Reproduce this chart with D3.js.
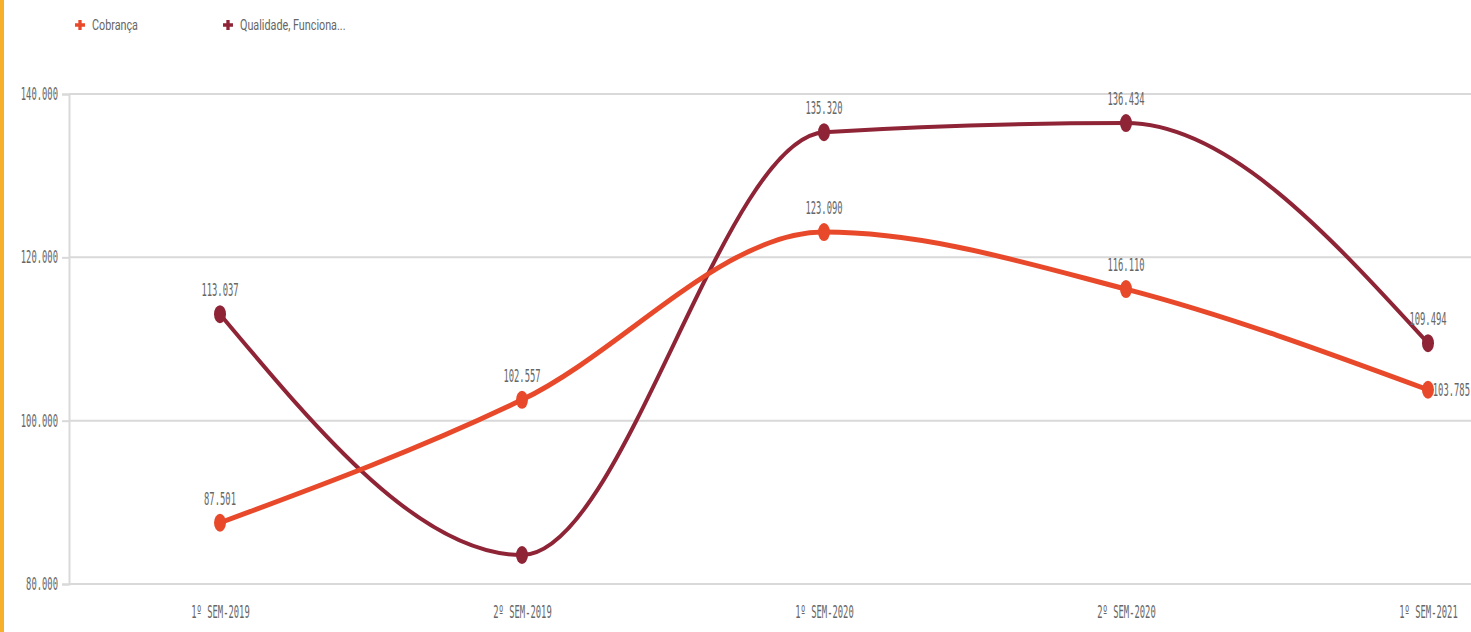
<!DOCTYPE html>
<html>
<head>
<meta charset="utf-8">
<script src="https://cdn.jsdelivr.net/npm/d3@7/dist/d3.min.js"></script>
<style>
  html, body { margin: 0; padding: 0; background: #fff; }
  svg { display: block; }
</style>
</head>
<body>
<svg id="chart" width="1471" height="632"></svg>
<script>
// Semester categories on the x axis
const categories = ["1º SEM-2019", "2º SEM-2019", "1º SEM-2020", "2º SEM-2020", "1º SEM-2021"];
// Series values
const cobranca = [87501, 102557, 123090, 116110, 103785];
const qualidade = [113037, 83550, 135320, 136434, 109494];
// Which points carry a value label
const cobrancaLabeled = [true, true, true, true, true];
const qualidadeLabeled = [true, false, true, true, true];
// Series names shown in the legend
const seriesNames = ["Cobrança", "Qualidade, Funciona..."];
// Y axis ticks
const yTicks = [80000, 100000, 120000, 140000];

const W = 1471, H = 632;
const svg = d3.select("#chart");

const locale = d3.formatLocale({ decimal: ",", thousands: ".", grouping: [3], currency: ["R$", ""] });
const fmt = locale.format(",.0f");

const series = [
  { name: seriesNames[0], values: cobranca, labeled: cobrancaLabeled, color: "#E8492A", width: 5 },
  { name: seriesNames[1], values: qualidade, labeled: qualidadeLabeled, color: "#8E2436", width: 4 }
];

// Left accent bar
svg.append("rect").attr("x", 0).attr("y", 0).attr("width", 4).attr("height", H).attr("fill", "#F6B02B");

const plotLeft = 69;
const step = 302;
const x = d3.scalePoint().domain(categories).range([plotLeft + step / 2, plotLeft + step * 4.5]);
const y = d3.scaleLinear().domain([80000, 140000]).range([584, 94]);

const fontSize = 17;
const textScale = 0.52;
const monoFont = "'DejaVu Sans Mono', monospace";
const textColor = "#666";

// Horizontal grid lines
svg.append("g").selectAll("line").data(yTicks).join("line")
  .attr("x1", plotLeft).attr("x2", W)
  .attr("y1", d => y(d)).attr("y2", d => y(d))
  .attr("stroke", "#d9d9d9").attr("stroke-width", 2);

// Y axis
const yAxis = svg.append("g").attr("transform", `translate(${plotLeft},0)`)
  .call(d3.axisLeft(y).tickValues(yTicks).tickSize(7).tickPadding(4).tickFormat(fmt));
yAxis.select(".domain").attr("stroke", "#d9d9d9").attr("stroke-width", 2);
yAxis.selectAll(".tick line").attr("stroke", "#d9d9d9").attr("stroke-width", 2);
yAxis.selectAll(".tick text").each(function () {
  const t = d3.select(this);
  const xPos = +t.attr("x");
  t.attr("x", null)
    .attr("transform", `translate(${xPos},0) scale(${textScale},1)`)
    .attr("font-family", monoFont).attr("font-size", fontSize).attr("fill", textColor);
});

// X axis labels
const xAxis = svg.append("g").attr("transform", `translate(0,584)`)
  .call(d3.axisBottom(x).tickSize(0).tickPadding(22));
xAxis.select(".domain").remove();
xAxis.selectAll(".tick text").each(function () {
  const t = d3.select(this);
  const yPos = +t.attr("y");
  t.attr("y", null)
    .attr("transform", `translate(0,${yPos}) scale(${textScale},1)`)
    .attr("font-family", monoFont).attr("font-size", fontSize).attr("fill", textColor);
});

// Lines
const line = d3.line()
  .x((d, i) => x(categories[i]))
  .y(d => y(d))
  .curve(d3.curveMonotoneX);

const gLines = svg.append("g");
series.slice().reverse().forEach(s => {
  gLines.append("path").datum(s.values)
    .attr("d", line)
    .attr("fill", "none")
    .attr("stroke", s.color)
    .attr("stroke-width", s.width)
    .attr("stroke-linecap", "round");
});

// Markers
series.forEach(s => {
  svg.append("g").selectAll("ellipse").data(s.values).join("ellipse")
    .attr("cx", (d, i) => x(categories[i]))
    .attr("cy", d => y(d))
    .attr("rx", 6).attr("ry", 9)
    .attr("fill", s.color);
});

// Value labels: above the marker, kept inside the right edge; if too close to
// another series' marker above, the label moves to the right of its own marker.
const labelW = 7 * fontSize * 0.602 * textScale;
const gLabels = svg.append("g");
series.forEach((s, si) => {
  s.values.forEach((v, i) => {
    if (!s.labeled[i]) return;
    const cx = x(categories[i]);
    const cy = y(v);
    const others = series.filter((o, oi) => oi !== si).map(o => y(o.values[i]));
    const crowded = others.some(oy => oy < cy && cy - oy < 60);
    let lx, ly, anchor;
    if (crowded) {
      lx = Math.min(cx + 6, W - 1 - labelW); ly = cy + 6; anchor = "start";
    } else {
      lx = Math.min(cx, W - 3 - labelW / 2); ly = cy - 18; anchor = "middle";
    }
    gLabels.append("text")
      .attr("transform", `translate(${lx},${ly}) scale(${textScale},1)`)
      .attr("text-anchor", anchor)
      .attr("font-family", monoFont).attr("font-size", fontSize).attr("fill", textColor)
      .text(fmt(v));
  });
});

// Legend
const legendX = [80, 228];
const legend = svg.append("g");
series.forEach((s, i) => {
  legend.append("path")
    .attr("d", d3.symbol(d3.symbolCross, 55)())
    .attr("transform", `translate(${legendX[i]},25)`)
    .attr("fill", s.color);
  legend.append("text")
    .attr("transform", `translate(${legendX[i] + 12},30) scale(0.72,1)`)
    .attr("font-family", "Roboto, 'Noto Sans', sans-serif").attr("font-size", 15).attr("fill", textColor)
    .text(s.name);
});
</script>
</body>
</html>
